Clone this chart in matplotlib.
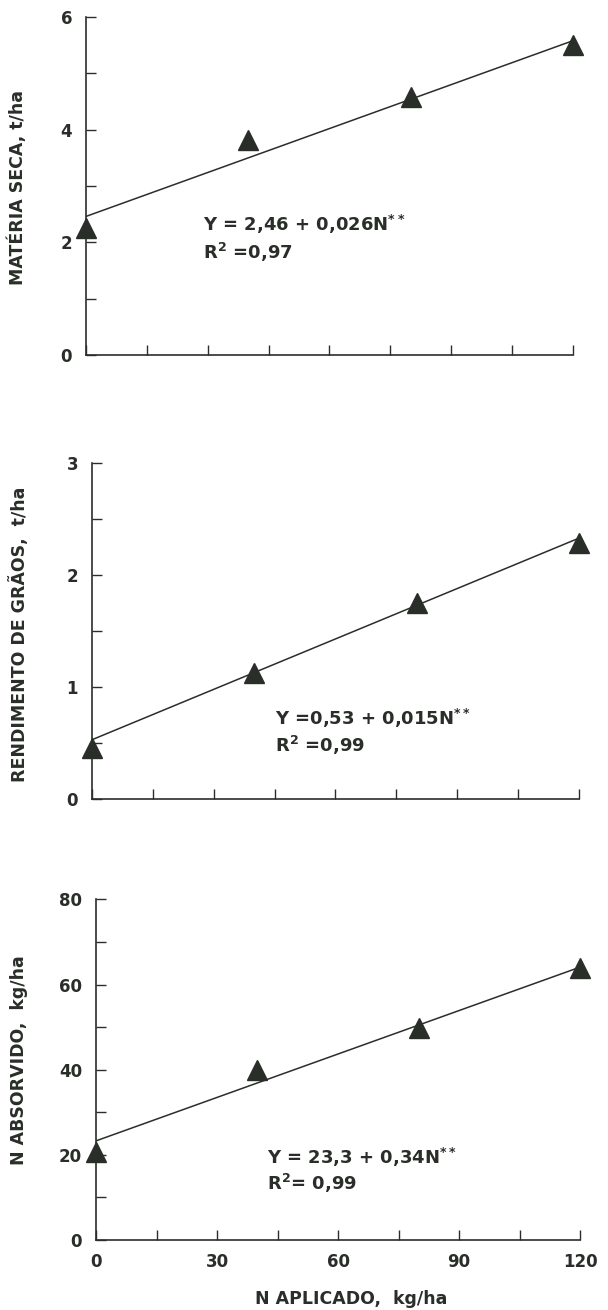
import matplotlib
matplotlib.use("Agg")
import matplotlib.pyplot as plt
import numpy as np
from matplotlib.ticker import MultipleLocator

# dados
n_aplicado = [0, 40, 80, 120]
materia_seca = [2.25, 3.82, 4.58, 5.5]
rendimento_graos = [0.46, 1.13, 1.75, 2.29]
n_absorvido = [20.7, 39.9, 49.8, 63.8]

# coeficientes das equacoes de regressao (Y = a + bN)
intercepts = [2.46, 0.53, 23.3]
slopes = [0.026, 0.015, 0.34]
eq_labels = ["Y = 2,46 + 0,026N$^{**}$", "Y =0,53 + 0,015N$^{**}$", "Y = 23,3 + 0,34N$^{**}$"]
r2_labels = ["R$^{2}$ =0,97", "R$^{2}$ =0,99", "R$^{2}$= 0,99"]
ylabels = ["MATÉRIA SECA, t/ha", "RENDIMENTO DE GRÃOS,  t/ha", "N ABSORVIDO,  kg/ha"]
xticks = [0, 30, 60, 90, 120]

plt.rcParams['font.family'] = ['DejaVu Sans']
plt.rcParams['font.weight'] = 'bold'
plt.rcParams['mathtext.default'] = 'regular'

ink = '#2a2e29'

fig = plt.figure(figsize=(6.08, 13.10), dpi=100)
fig.patch.set_facecolor('white')

# [left, bottom, width, height] de cada painel
boxes = [[0.1414, 0.729, 0.801, 0.258],
         [0.1513, 0.390, 0.801, 0.2565],
         [0.158, 0.0534, 0.796, 0.260]]
series = [materia_seca, rendimento_graos, n_absorvido]
ylims = [(0, 6), (0, 3), (0, 80)]
ymajor = [2, 1, 20]
yminor = [1, 0.5, 10]
txt_pos = [(0.24, 0.385, 0.302), (0.376, 0.241, 0.161), (0.353, 0.243, 0.167)]
ylab_pos = [(-0.121, 0.497), (-0.129, 0.49), (-0.14, 0.528)]

for i in range(3):
    ax = fig.add_axes(boxes[i])
    ax.set_facecolor('white')
    xs = np.array([0, 120])
    ax.plot(xs, intercepts[i] + slopes[i] * xs, color=ink, lw=1.1)
    ax.plot(n_aplicado, series[i], linestyle='none', marker='^', ms=14,
            color=ink, clip_on=False, zorder=5)
    ax.set_xlim(0, 120)
    ax.set_ylim(*ylims[i])
    for s in ['top', 'right']:
        ax.spines[s].set_visible(False)
    for s in ['left', 'bottom']:
        ax.spines[s].set_color(ink)
        ax.spines[s].set_linewidth(1.2)
    ax.yaxis.set_major_locator(MultipleLocator(ymajor[i]))
    ax.yaxis.set_minor_locator(MultipleLocator(yminor[i]))
    ax.xaxis.set_major_locator(MultipleLocator(30))
    ax.xaxis.set_minor_locator(MultipleLocator(15))
    ax.tick_params(which='both', direction='in', length=7, width=1.0, color=ink)
    ax.tick_params(axis='y', labelsize=12, pad=10, labelcolor=ink)
    ax.tick_params(axis='x', labelsize=12, pad=9.5, labelcolor=ink)
    if i < 2:
        ax.set_xticklabels([])
    else:
        ax.set_xticks(xticks)
        ax.set_xlabel("N APLICADO,  kg/ha", fontsize=12.5, fontweight='bold', color=ink)
        ax.xaxis.set_label_coords(0.527, -0.147)
    ax.set_ylabel(ylabels[i], fontsize=12.5, fontweight='bold', color=ink)
    ax.yaxis.set_label_coords(*ylab_pos[i])
    tx, ty1, ty2 = txt_pos[i]
    ax.text(tx, ty1, eq_labels[i], transform=ax.transAxes, fontsize=13,
            fontweight='bold', color=ink, va='center')
    ax.text(tx, ty2, r2_labels[i], transform=ax.transAxes, fontsize=13,
            fontweight='bold', color=ink, va='center')

fig.savefig('out.png', dpi=100, facecolor='white')
